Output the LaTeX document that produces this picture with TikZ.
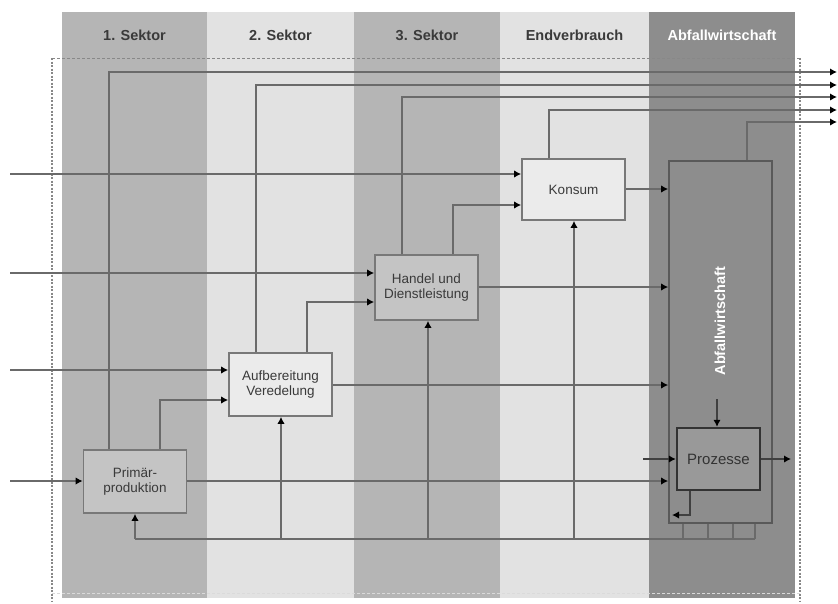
\documentclass[tikz,border=0pt]{standalone}
\usepackage{fontspec}
\setmainfont{Liberation Sans}
\usetikzlibrary{arrows.meta}
\definecolor{bandA}{HTML}{B5B5B5}
\definecolor{bandB}{HTML}{E2E2E2}
\definecolor{bandC}{HTML}{8D8D8D}
\definecolor{lineC}{HTML}{6A6A6A}
\definecolor{boxC}{HTML}{787878}
\definecolor{headC}{HTML}{3A3A3A}
\tikzset{
  band/.style={fill=#1, draw=none},
  headlabel/.style={font=\fontsize{14.5}{16}\selectfont\bfseries, text=headC},
  procbox/.style={draw=boxC, line width=1.7pt, fill=#1, minimum width=103pt, minimum height=63pt,
    align=center, inner sep=2pt, text=headC, font=\fontsize{13.5}{15}\selectfont},
  flow/.style={draw=lineC, line width=1.8pt},
  arr/.style={flow, -{Latex[length=7pt,width=7.5pt,black]}},
}
\begin{document}
\begin{tikzpicture}[x=1pt,y=-1pt]
\useasboundingbox (0,0) rectangle (838,603);
% bands
\fill[band=bandA] (62,12) rectangle (207,598);
\fill[band=bandB] (207,12) rectangle (354,598);
\fill[band=bandA] (354,12) rectangle (500,598);
\fill[band=bandB] (500,12) rectangle (649,598);
\fill[band=bandC] (649,12) rectangle (795,598);
% headers
\node[headlabel] (h1) at (134.5,35) {1. Sektor};
\node[headlabel] (h2) at (280.5,35) {2. Sektor};
\node[headlabel] (h3) at (427,35) {3. Sektor};
\node[headlabel] (h4) at (574.5,35) {Endverbrauch};
\node[headlabel, text=white] (h5) at (722,35) {Abfallwirtschaft};
% frame
\draw[lineC!80, line width=1pt, dash pattern=on 3pt off 2pt] (52,58) -- (800,58);
\draw[white!75!lineC, line width=1pt, dash pattern=on 3pt off 2pt] (52,593) -- (800,593);
\draw[lineC!80, line width=1.2pt, dash pattern=on 2pt off 1.5pt] (52,58) -- (52,601);
\draw[lineC!80, line width=1.2pt, dash pattern=on 2pt off 1.5pt] (800,58) -- (800,601);
% boxes
\node[procbox=bandA!80!white] (prim) at (135,481.5) {Primär-\\produktion};
\node[procbox=bandB!70!white] (aufb) at (280.5,384.5) {Aufbereitung\\Veredelung};
\node[procbox=bandA!80!white, minimum height=65pt] (handel) at (426.5,287.5) {Handel und\\Dienstleistung};
\node[procbox=bandB!70!white, minimum height=61pt] (konsum) at (573.5,189.5) {Konsum};
\node[draw=black!65, line width=1.7pt, fill=bandC, minimum width=103pt, minimum height=362pt] (abf) at (720.5,342) {};
\node[text=white, font=\fontsize{14.5}{16}\selectfont\bfseries, rotate=90] (abflabel) at (720,321) {Abfallwirtschaft};
\node[draw=black!80, line width=2.4pt, fill=black!40, minimum width=83pt, minimum height=62pt,
  font=\fontsize{15}{17}\selectfont, text=black!80] (proz) at (718.5,459) {Prozesse};
% free ends
\coordinate (in1) at (10,481);
\coordinate (in2) at (10,370);
\coordinate (in3) at (10,273);
\coordinate (in4) at (10,174);
\coordinate (o1) at (837,72);
\coordinate (o2) at (837,85);
\coordinate (o3) at (837,97);
\coordinate (o4) at (837,110);
\coordinate (o5) at (837,122);
\coordinate (ret) at (135,539);
\coordinate (retend) at (755,539);
% inputs from outside
\draw[arr] (in1) -- (prim.west |- in1);
\draw[arr] (in2) -- (aufb.west |- in2);
\draw[arr] (in3) -- (handel.west |- in3);
\draw[arr] (in4) -- (konsum.west |- in4);
% exits to top right
\draw[arr] (prim.north -| 109,0) |- (o1);
\draw[arr] (aufb.north -| 256,0) |- (o2);
\draw[arr] (handel.north -| 402,0) |- (o3);
\draw[arr] (konsum.north -| 549,0) |- (o4);
\draw[arr] (abf.north -| 747,0) |- (o5);
% chain
\draw[arr] (prim.north -| 160,0) |- (aufb.west |- 0,400);
\draw[arr] (aufb.north -| 307,0) |- (handel.west |- 0,302);
\draw[arr] (handel.north -| 453,0) |- (konsum.west |- 0,205);
% to waste management
\draw[arr] (prim.east |- 0,481) -- (abf.west |- 0,481);
\draw[arr] (aufb.east |- 0,385) -- (abf.west |- 0,385);
\draw[arr] (handel.east |- 0,287) -- (abf.west |- 0,287);
\draw[arr] (konsum.east |- 0,189) -- (abf.west |- 0,189);
% return line
\draw[flow] (ret) -- (retend);
\draw[arr] (ret) -- (prim.south);
\draw[arr] (ret -| 281,0) -- (aufb.south -| 281,0);
\draw[arr] (ret -| 428,0) -- (handel.south -| 428,0);
\draw[arr] (ret -| 574,0) -- (konsum.south -| 574,0);
\foreach \xx in {683,708,733,755} \draw[flow] (abf.south -| \xx,0) -- (ret -| \xx,0);
% processes
\coordinate (pin) at (643,459);
\coordinate (pout) at (791,459);
\coordinate (ptop) at (717,399);
\coordinate (pbot) at (690,515);
\coordinate (pret) at (672,515);
\draw[arr, draw=black!75] (ptop) -- (proz.north -| ptop);
\draw[arr, draw=black!75] (pin) -- (proz.west);
\draw[arr, draw=black!75] (proz.east) -- (pout);
\draw[arr, draw=black!75] (proz.south -| pbot) -- (pbot) -- (pret);
\end{tikzpicture}
\end{document}
